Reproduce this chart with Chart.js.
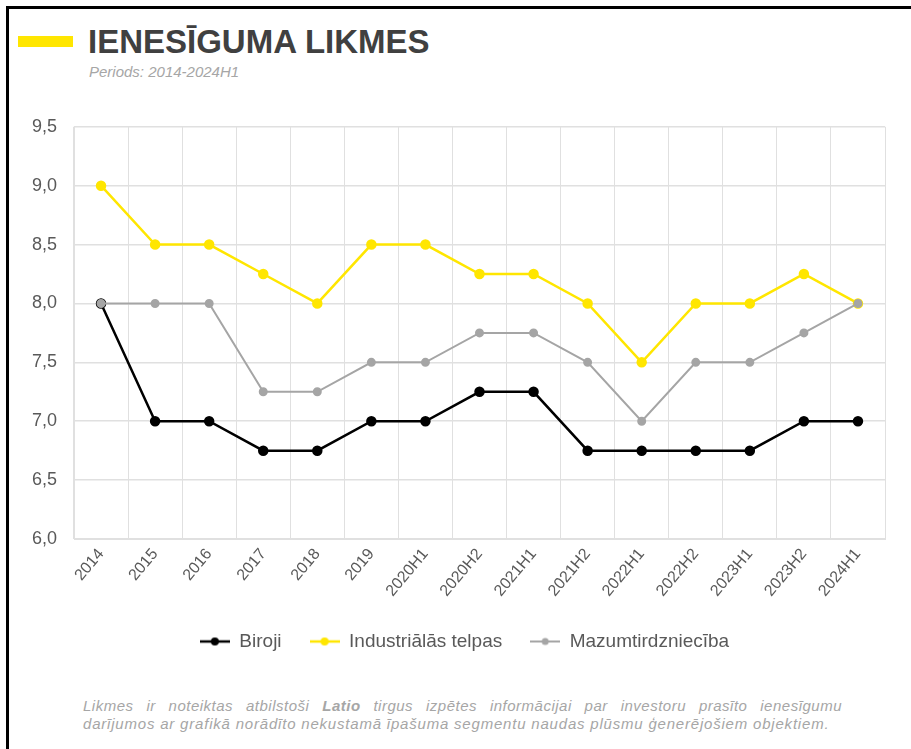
<!DOCTYPE html>
<html>
<head>
<meta charset="utf-8">
<script src="https://cdn.jsdelivr.net/npm/chart.js@4"></script>
<style>
  body { margin: 0; background: #fff; font-family: "Liberation Sans", Arial, sans-serif; }
  #page { position: relative; width: 911px; height: 749px; overflow: hidden; }
  #frame { position: absolute; left: 6px; top: 6px; width: 920px; height: 800px; border-left: 3px solid #000; border-top: 3px solid #000; }
  #bar { position: absolute; left: 18px; top: 36px; width: 55px; height: 11px; background: #FFE600; }
  #title { position: absolute; left: 88px; top: 23px; font-size: 33px; font-weight: bold; color: #404040; }
  #subtitle { position: absolute; left: 89px; top: 63px; font-size: 15px; font-style: italic; color: #a6a6a6; }
  #chartBox { position: absolute; left: 10px; top: 99px; width: 890px; height: 563px; }
  .note { position: absolute; left: 83px; font-size: 15px; line-height: 18px; font-style: italic; color: #a6a6a6; letter-spacing: 0.5px; }
  #note1 { top: 697px; width: 759px; text-align: justify; text-align-last: justify; }
  #note2 { top: 715px; white-space: nowrap; letter-spacing: 0.8px; }
</style>
</head>
<body>
<div id="page">
  <div id="frame"></div>
  <div id="bar"></div>
  <div id="title">IENESĪGUMA LIKMES</div>
  <div id="subtitle">Periods: 2014-2024H1</div>
  <div id="chartBox"><canvas id="chartCanvas"></canvas></div>
  <div class="note" id="note1">Likmes ir noteiktas atbilstoši <b>Latio</b> tirgus izpētes informācijai par investoru prasīto ienesīgumu</div>
  <div class="note" id="note2">darījumos ar grafikā norādīto nekustamā īpašuma segmentu naudas plūsmu ģenerējošiem objektiem.</div>
</div>
<script>
const periods = ["2014", "2015", "2016", "2017", "2018", "2019", "2020H1", "2020H2", "2021H1", "2021H2", "2022H1", "2022H2", "2023H1", "2023H2", "2024H1"];
const biroji = [8.0, 7.0, 7.0, 6.75, 6.75, 7.0, 7.0, 7.25, 7.25, 6.75, 6.75, 6.75, 6.75, 7.0, 7.0];
const industrialas = [9.0, 8.5, 8.5, 8.25, 8.0, 8.5, 8.5, 8.25, 8.25, 8.0, 7.5, 8.0, 8.0, 8.25, 8.0];
const mazumtirdznieciba = [8.0, 8.0, 8.0, 7.25, 7.25, 7.5, 7.5, 7.75, 7.75, 7.5, 7.0, 7.5, 7.5, 7.75, 8.0];

const seriesNames = ["Biroji", "Industriālās telpas", "Mazumtirdzniecība"];
const seriesColors = ["#000000", "#FFE600", "#A5A5A5"];

// little line-with-dot icon for the legend
function legendIcon(color, lw, r) {
  const c = document.createElement("canvas");
  c.width = 30; c.height = 10;
  const g = c.getContext("2d");
  g.strokeStyle = color; g.lineWidth = lw;
  g.beginPath(); g.moveTo(0, 5); g.lineTo(30, 5); g.stroke();
  g.fillStyle = color;
  g.beginPath(); g.arc(15, 5, r, 0, Math.PI * 2); g.fill();
  return c;
}
const icons = [legendIcon(seriesColors[0], 2.5, 4), legendIcon(seriesColors[1], 2.5, 4), legendIcon(seriesColors[2], 2, 3.5)];

const fmt = (v) => v.toFixed(1).replace(".", ",");

// legend sits a bit right of centre in the original
const shiftLegend = {
  id: "shiftLegend",
  afterLayout(chart) {
    if (!chart.legend) return;
    chart.legend.left += 17;
    chart.legend.right += 17;
  },
};

const ctx = document.getElementById("chartCanvas").getContext("2d");
new Chart(ctx, {
  type: "line",
  data: {
    labels: periods,
    datasets: [
      { label: seriesNames[0], data: biroji, borderColor: seriesColors[0], backgroundColor: seriesColors[0], borderWidth: 2.5, pointRadius: 4, order: 3 },
      { label: seriesNames[1], data: industrialas, borderColor: seriesColors[1], backgroundColor: seriesColors[1], borderWidth: 2.5, pointRadius: 4, order: 2 },
      { label: seriesNames[2], data: mazumtirdznieciba, borderColor: seriesColors[2], backgroundColor: seriesColors[2], borderWidth: 2, pointRadius: 3.5, order: 1 },
    ],
  },
  options: {
    responsive: true,
    maintainAspectRatio: false,
    animation: false,
    layout: { padding: { top: 26, right: 15, bottom: 1, left: 0 } },
    scales: {
      x: {
        offset: true,
        grid: { color: "#e0e0e0", offset: true, drawTicks: false },
        border: { color: "#e0e0e0" },
        ticks: { color: "#595959", font: { family: "Liberation Sans", size: 16 }, minRotation: 50, maxRotation: 50, padding: 6 },
        afterFit: (scale) => { scale.height = 65; },
      },
      y: {
        min: 6.0,
        max: 9.5,
        grid: { color: "#e0e0e0", lineWidth: 1.5, drawTicks: false },
        border: { color: "#e0e0e0" },
        ticks: { stepSize: 0.5, color: "#595959", font: { family: "Liberation Sans", size: 18 }, padding: 17, callback: (v) => fmt(v) },
        afterFit: (scale) => { scale.width = 64; },
      },
    },
    plugins: {
      legend: {
        position: "bottom",
        labels: {
          color: "#595959",
          font: { family: "Liberation Sans", size: 19 },
          usePointStyle: true,
          pointStyleWidth: 30,
          padding: 28,
          sort: (a, b) => a.datasetIndex - b.datasetIndex,
          generateLabels: (chart) => Chart.defaults.plugins.legend.labels.generateLabels(chart).map((item) => Object.assign(item, { pointStyle: icons[item.datasetIndex] })),
        },
      },
      tooltip: { enabled: false },
    },
  },
  plugins: [shiftLegend],
});
</script>
</body>
</html>
